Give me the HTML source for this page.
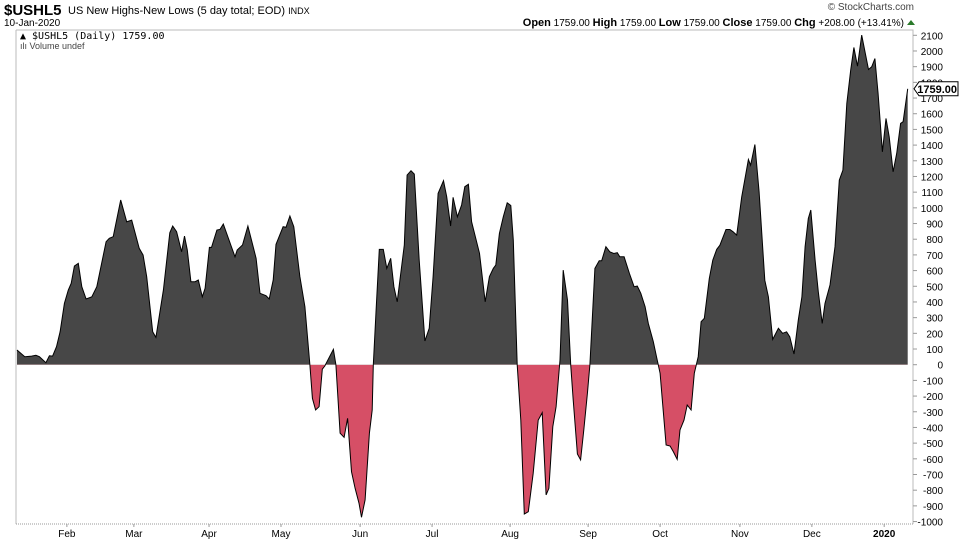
<!DOCTYPE html>
<html><head><meta charset="utf-8">
<style>
body{margin:0;background:#fff;width:960px;height:540px;overflow:hidden;font-family:"Liberation Sans",sans-serif;}
svg{display:block}
</style></head>
<body>
<svg id="chart" width="960" height="540" xmlns="http://www.w3.org/2000/svg">
<text x="4" y="15" font-size="15" font-weight="bold" fill="#000">$USHL5</text>
<text x="68" y="14" font-size="11" fill="#000">US New Highs-New Lows (5 day total; EOD) <tspan font-size="9">INDX</tspan></text>
<text x="4" y="26" font-size="10" fill="#000">10-Jan-2020</text>
<text x="914" y="10" font-size="10" fill="#444" text-anchor="end">© StockCharts.com</text>
<text x="904" y="26" font-size="10" fill="#000" text-anchor="end"><tspan font-weight="bold" font-size="11">Open</tspan> 1759.00  <tspan font-weight="bold" font-size="11">High</tspan> 1759.00  <tspan font-weight="bold" font-size="11">Low</tspan> 1759.00  <tspan font-weight="bold" font-size="11">Close</tspan> 1759.00  <tspan font-weight="bold" font-size="11">Chg</tspan> +208.00 (+13.41%)</text>
<polygon points="907,25 915,25 911,20" fill="#2a7a2a"/>
<g id="plot"></g>
<text x="20" y="39" font-size="10" font-family="'DejaVu Sans Mono','Liberation Mono',monospace" fill="#000">▲ $USHL5 (Daily) 1759.00</text>
<text x="20" y="49" font-size="9" fill="#444">ılı Volume undef</text>
</svg>
<script>
const days=[0,2.2,4.1,5.3,6.3,8.1,9.1,10.0,11.1,12.1,13.3,14.4,15.2,16.1,17.2,18.2,19.4,21.0,22.4,25.0,25.9,27.0,29.1,30.8,32.2,34.3,35.4,36.4,38.1,39.0,41.1,42.9,43.7,44.8,46.2,47.0,47.8,48.8,50.0,50.9,52.0,52.8,54.0,54.6,56.1,57.0,57.9,61.2,61.8,63.3,64.8,67.1,68.2,69.9,70.8,71.9,72.7,74.7,75.5,76.6,77.7,79.4,80.8,82.2,82.9,83.8,84.8,85.7,86.4,88.8,89.5,90.7,91.8,92.8,93.9,94.9,96.0,96.7,97.7,98.9,99.7,100.0,100.8,101.7,102.8,103.8,104.9,105.8,106.7,108.7,109.5,110.6,111.5,112.9,114.5,115.7,116.8,118.2,119.7,120.6,121.7,122.4,123.6,124.8,125.7,126.7,127.6,129.8,131.4,132.6,133.7,134.4,135.4,136.5,137.6,138.6,139.3,140.4,141.4,142.4,143.5,144.9,146.3,147.4,148.5,149.3,150.4,151.3,152.4,153.3,154.5,155.4,156.1,157.3,158.2,159.1,160.1,160.8,162.2,163.4,164.1,165.3,166.4,167.5,168.5,169.2,170.4,171.9,173.2,174.1,175.1,176.3,177.2,178.6,179.5,180.5,181.2,182.2,183.3,184.2,185.3,186.1,187.2,188.1,189.2,190.1,191.2,192.0,192.9,194.3,195.3,196.4,197.3,199.0,200.1,201.0,202.0,203.4,205.3,205.9,207.1,208.3,209.9,210.9,212.1,213.7,214.9,216.0,216.9,218.1,219.3,220.3,221.2,222.1,222.8,224.0,224.9,226.0,226.8,228.2,229.6,230.8,231.8,232.9,234.0,234.9,235.9,237.1,239.0,239.9,240.8,241.7,242.9,243.9,244.8,245.9,246.9,248.0,248.7,250.0];
const values=[94,51,55,60,51,13,57,55,115,210,391,476,519,629,646,497,419,433,497,784,806,816,1050,911,922,742,699,561,210,174,476,841,884,848,720,820,731,529,529,540,433,487,748,748,858,863,897,688,731,763,884,678,455,440,419,540,767,880,876,948,880,561,370,-2,-214,-289,-268,-29,-8,98,0,-437,-463,-342,-682,-788,-883,-973,-862,-437,-289,-2,349,735,735,614,678,497,401,763,1209,1237,1215,667,151,232,561,1092,1173,1071,884,1067,943,1018,1135,1150,911,710,401,561,614,635,837,943,1032,1015,794,0,-353,-952,-937,-692,-353,-306,-830,-788,-395,-268,30,603,412,0,-225,-569,-607,-416,-183,0,614,663,663,752,720,709,714,688,688,582,497,501,455,370,263,147,51,-55,-246,-512,-518,-554,-603,-416,-353,-257,-289,-55,51,274,295,550,667,735,762,862,862,847,826,1070,1308,1272,1404,1102,539,433,161,232,200,210,178,68,285,433,752,932,986,667,465,263,391,508,752,1177,1240,1665,1878,2022,1903,2101,1882,1899,1952,1729,1357,1570,1453,1230,1347,1538,1549,1759];
const monthLabels=["Feb","Mar","Apr","May","Jun","Jul","Aug","Sep","Oct","Nov","Dec","2020"];
const monthDays=[14.0,32.8,53.9,74.1,96.3,116.5,138.4,160.3,180.5,202.9,223.1,243.4];
const yTicks=[2100,2000,1900,1800,1700,1600,1500,1400,1300,1200,1100,1000,900,800,700,600,500,400,300,200,100,0,-100,-200,-300,-400,-500,-600,-700,-800,-900,-1000];
const lastValue=1759;

const NS="http://www.w3.org/2000/svg";
const L=16,R=913,T=30,B=524;
const x=d=>17+d*(907.7-17)/250;
const y=v=>364.7-v*0.15686;
const g=document.getElementById('plot');
function mk(t,a,p){const e=document.createElementNS(NS,t);for(const k in a)e.setAttribute(k,a[k]);(p||g).appendChild(e);return e;}

const defs=mk('defs',{});
const cpA=mk('clipPath',{id:'above'},defs);mk('rect',{x:L,y:T,width:R-L,height:y(0)-T},cpA);
const cpB=mk('clipPath',{id:'below'},defs);mk('rect',{x:L,y:y(0),width:R-L,height:B-y(0)},cpB);

let pts=days.map((d,i)=>x(d).toFixed(1)+','+y(values[i]).toFixed(1));
const area='M'+x(days[0]).toFixed(1)+','+y(0)+' L'+pts.join(' L')+' L'+x(days[days.length-1]).toFixed(1)+','+y(0)+' Z';
const pos=mk('path',{d:area,fill:'#474747','clip-path':'url(#above)'});


const neg=mk('path',{d:area,fill:'#d64f66','clip-path':'url(#below)'});


const line=mk('path',{d:'M'+pts.join(' L'),fill:'none',stroke:'#000','stroke-width':1});



const fr=mk('path',{d:`M${L},${T} H${R} V${B} M${L},${T} V${B}`,fill:'none',stroke:'#bbb','stroke-width':1});


const bl=mk('line',{x1:L,x2:R,y1:B,y2:B,stroke:'#999','stroke-dasharray':'1,1'});



yTicks.forEach(v=>{
 const tk=mk('line',{x1:R,x2:R+4,y1:y(v),y2:y(v),stroke:'#999'});
 
 
 const t=mk('text',{x:943,y:y(v)+4,'font-size':10,'text-anchor':'end',fill:'#000'});
 
 
 t.textContent=v;
});
monthLabels.forEach((m,i)=>{
 const tk=mk('line',{x1:x(monthDays[i]),x2:x(monthDays[i]),y1:B,y2:B+3,stroke:'#999'});
 
 
 const t=mk('text',{x:x(monthDays[i]),y:537,'font-size':10,'text-anchor':'middle',fill:'#000','font-weight':m==='2020'?'bold':'normal'});
 
 
 t.textContent=m;
});
const ly=y(lastValue);
const tag=mk('path',{d:`M${R+1},${ly} L${R+6},${ly-7} H958 V${ly+7} H${R+6} Z`,fill:'#fff',stroke:'#000'});


const tt=mk('text',{x:957,y:ly+4,'font-size':11,'font-weight':'bold','text-anchor':'end',fill:'#000'});


tt.textContent=lastValue.toFixed(2);
</script>
</body></html>
